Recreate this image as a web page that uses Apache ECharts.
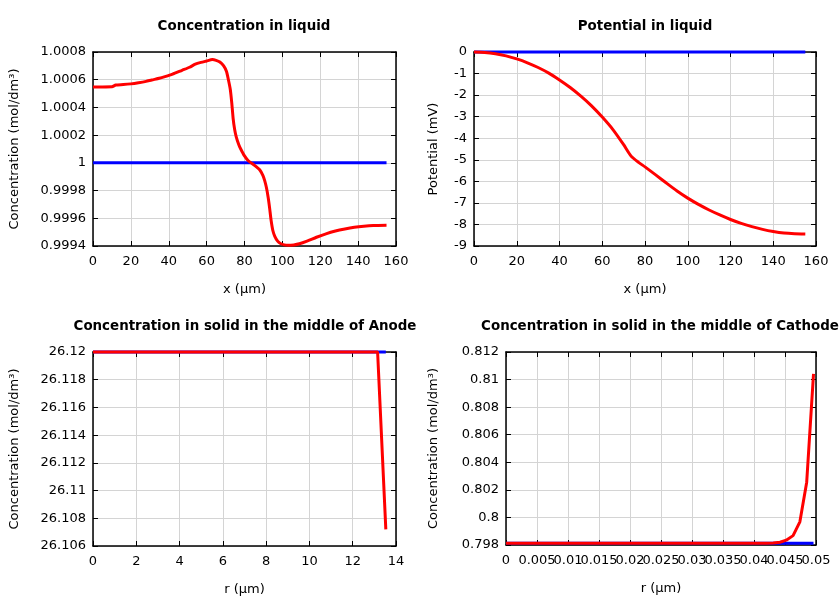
<!DOCTYPE html>
<html>
<head>
<meta charset="utf-8">
<script src="https://cdn.jsdelivr.net/npm/echarts@6/dist/echarts.min.js"></script>
<style>html,body{margin:0;padding:0;background:#fff}#c{width:840px;height:600px}</style>
</head>
<body>
<div id="c"></div>
<script>
// ---- Data ----
const titles = ['Concentration in liquid', 'Potential in liquid',
  'Concentration in solid in the middle of Anode', 'Concentration in solid in the middle of Cathode'];
const xNames = ['x (µm)', 'x (µm)', 'r (µm)', 'r (µm)'];
const yNames = ['Concentration (mol/dm³)', 'Potential (mV)', 'Concentration (mol/dm³)', 'Concentration (mol/dm³)'];

// Panel 1: concentration in liquid
const liqConcInit = [[0, 1.0], [155, 1.0]];
const liqConc = [[0,1.000548],[5,1.000548],[10,1.000549],[12,1.000562],[16,1.000565],[20,1.00057],[24,1.000578],[28,1.000588],[31,1.000598],[35,1.00061],[38,1.000622],[42,1.00064],[47,1.000668],[51,1.00069],[54,1.000712],[57,1.000725],[60,1.000735],[63,1.000745],[65,1.00074],[67,1.000728],[69,1.0007],[70.5,1.00066],[71.5,1.0006],[72.5,1.00053],[73.3,1.00043],[74,1.00032],[74.8,1.00024],[75.6,1.00019],[77,1.00013],[78,1.0001],[80,1.00005],[82,1.000015],[84,0.999995],[86,0.999975],[88,0.99995],[89.7,0.99991],[90.7,0.99987],[91.6,0.99982],[92.5,0.99975],[93.3,0.99967],[94,0.99959],[95,0.99951],[96,0.99947],[97.5,0.999435],[99,0.999418],[101,0.999408],[103,0.999405],[106,0.999408],[109,0.999416],[113,0.999435],[118,0.999463],[123,0.999488],[128,0.999508],[133,0.999523],[138,0.999535],[143,0.999543],[148,0.999548],[155,0.99955]];

// Panel 2: potential in liquid
const liqPotInit = [[0, 0], [155, 0]];
const liqPot = [[0,0],[5,-0.02],[10,-0.08],[15,-0.18],[20,-0.32],[25,-0.5],[30,-0.72],[35,-0.98],[40,-1.3],[45,-1.65],[50,-2.05],[55,-2.5],[60,-3.02],[65,-3.6],[70,-4.3],[73.5,-4.83],[77,-5.12],[80,-5.33],[85,-5.7],[90,-6.08],[95,-6.45],[100,-6.78],[105,-7.07],[110,-7.33],[115,-7.56],[120,-7.77],[125,-7.95],[130,-8.1],[135,-8.23],[140,-8.33],[145,-8.4],[150,-8.43],[155,-8.44]];

// Panel 3: solid concentration, anode
const anodeInit = [[0, 26.12], [13.53, 26.12]];
const anode = [[0,26.12],[2,26.12],[4,26.12],[6,26.12],[8,26.12],[10,26.12],[12,26.12],[13.15,26.12],[13.23,26.1199],[13.53,26.1072]];

// Panel 4: solid concentration, cathode
const cathodeInit = [[0, 0.79812], [0.0496, 0.79812]];
const cathode = [[0,0.79812],[0.01,0.79812],[0.02,0.79812],[0.03,0.79812],[0.04,0.79812],[0.042,0.79813],[0.0431,0.79815],[0.0442,0.7982],[0.0452,0.79835],[0.0463,0.79868],[0.0474,0.79968],[0.0485,0.80256],[0.0496,0.81042]];

// Axis ranges [min, max, interval]
const xRanges = [[0, 160, 20], [0, 160, 20], [0, 14, 2], [0, 0.05, 0.005]];
const yRanges = [[0.9994, 1.0008, 0.0002], [-9, 0, 1], [26.106, 26.12, 0.002], [0.798, 0.812, 0.002]];

// ---- Layout ----
const grids = [
  {left: 93, top: 52, width: 303, height: 194},
  {left: 474, top: 52, width: 342, height: 194},
  {left: 93, top: 352, width: 303, height: 194},
  {left: 506, top: 352, width: 310, height: 193}
];
const titlePos = [[244, 20], [645, 20], [245, 320], [660, 320]];
const yNameGap = [72, 34, 72, 66];

const FONT = 'DejaVu Sans';
const lab = {fontFamily: FONT, fontSize: 13, color: '#000'};

const xAxes = [], yAxes = [], series = [], title = [];
const axLine = {show: true, onZero: false, lineStyle: {color: '#000', width: 1.5}};
const tick = {show: true, inside: true, length: 5, lineStyle: {color: '#000', width: 1}};
const split = {show: true, lineStyle: {color: '#d4d4d4', width: 1}};

for (let i = 0; i < 4; i++) {
  const [x0, x1, xi] = xRanges[i];
  const [y0, y1, yi] = yRanges[i];
  title.push({text: titles[i], left: titlePos[i][0], top: titlePos[i][1], textAlign: 'center', padding: 0,
    textStyle: {fontFamily: FONT, fontSize: 13.4, fontWeight: 'bold', color: '#000'}});
  const dense = (i === 3);
  xAxes.push({gridIndex: i, type: 'value', position: 'bottom', min: x0, max: x1, interval: xi,
    name: xNames[i], nameLocation: 'middle', nameGap: 37, nameTextStyle: lab,
    axisLine: axLine, axisTick: tick,
    axisLabel: Object.assign({margin: 9, hideOverlap: false, showMinLabel: true, showMaxLabel: true,
      formatter: dense ? (v => (Math.round(v / xi) % 2 === 0 ? String(+v.toFixed(4)) : '')) : null}, lab),
    splitLine: split});
  xAxes.push({gridIndex: i, type: 'value', position: 'top', min: x0, max: x1, interval: xi,
    axisLine: axLine, axisTick: tick, axisLabel: {show: false}, splitLine: {show: false}});
  yAxes.push({gridIndex: i, type: 'value', position: 'left', min: y0, max: y1, interval: yi,
    name: yNames[i], nameLocation: 'middle', nameGap: yNameGap[i], nameTextStyle: lab,
    axisLine: axLine, axisTick: tick,
    axisLabel: Object.assign({margin: 7, showMinLabel: true, showMaxLabel: true}, lab),
    splitLine: split});
  yAxes.push({gridIndex: i, type: 'value', position: 'right', min: y0, max: y1, interval: yi,
    axisLine: axLine, axisTick: tick, axisLabel: {show: false}, splitLine: {show: false}});
}
// extra label-only axis for the odd labels of the cathode panel
const cx = xRanges[3];
xAxes.push({gridIndex: 3, type: 'value', position: 'bottom', offset: 0, min: cx[0], max: cx[1], interval: cx[2],
  axisLine: {show: false}, axisTick: {show: false}, splitLine: {show: false},
  axisLabel: Object.assign({margin: 9, hideOverlap: false, showMinLabel: true, showMaxLabel: true,
    formatter: v => (Math.round(v / cx[2]) % 2 === 1 ? String(+v.toFixed(4)) : '')}, lab)});

const blueData = [liqConcInit, liqPotInit, anodeInit, cathodeInit];
const redData = [liqConc, liqPot, anode, cathode];
for (let i = 0; i < 4; i++) {
  series.push({type: 'line', xAxisIndex: 2 * i, yAxisIndex: 2 * i, data: blueData[i], showSymbol: false, symbol: 'none',
    clip: false, lineStyle: {color: '#0000ff', width: 3}, z: 3});
  series.push({type: 'line', xAxisIndex: 2 * i, yAxisIndex: 2 * i, data: redData[i], showSymbol: false, symbol: 'none',
    clip: false, smooth: i < 2 ? 0.2 : false, lineStyle: {color: '#ff0000', width: 3}, z: 4});
}

const chart = echarts.init(document.getElementById('c'), null, {renderer: 'canvas'});
chart.setOption({
  animation: false,
  backgroundColor: '#fff',
  title: title,
  grid: grids,
  xAxis: xAxes,
  yAxis: yAxes,
  series: series
});
</script>
</body>
</html>
